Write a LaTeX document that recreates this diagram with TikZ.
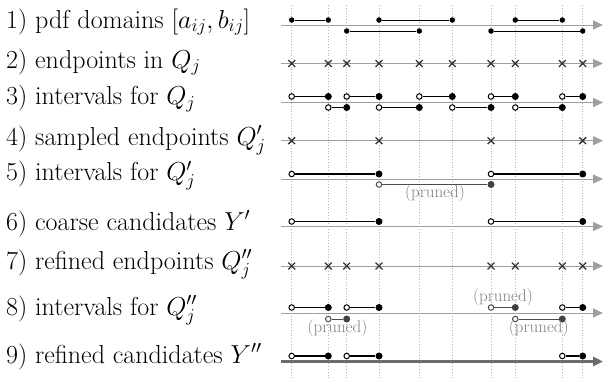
\RequirePackage{fix-cm}
\documentclass[tikz,border=0pt]{standalone}
\usetikzlibrary{arrows.meta,shapes.misc}
\newcommand\ivl[7]{%
  \node[#5] (#1-a) at (#2,#4) {};
  \node[#6] (#1-b) at (#3,#4) {};
  \draw[#7] (#1-a) -- (#1-b);}
\def\xa{291.7}\def\xb{328.3}\def\xc{346.7}\def\xd{379}\def\xe{419.3}
\def\xf{452.3}\def\xg{491}\def\xh{515.3}\def\xi{562.3}\def\xj{582.7}
\begin{document}
\begin{tikzpicture}[x=1pt,y=-1pt,
  vline/.style={gray!60, line width=0.8pt, dash pattern=on 1pt off 1.8pt},
  axisline/.style={gray!75, line width=1pt, -{Triangle[length=10pt,width=9pt]}},
  axisbold/.style={gray!85!black, line width=2.6pt, -{Triangle[length=10pt,width=9pt]}},
  sdot/.style={circle, fill=black, inner sep=0pt, minimum size=5.5pt},
  bdot/.style={circle, fill=black, inner sep=0pt, minimum size=7pt},
  odot/.style={circle, draw=black, fill=white, line width=1pt, inner sep=0pt, minimum size=5.5pt},
  gbdot/.style={circle, fill=gray!50!black, inner sep=0pt, minimum size=7pt},
  godot/.style={circle, draw=gray!60!black, fill=white, line width=1pt, inner sep=0pt, minimum size=5.5pt},
  xm/.style={cross out, draw=black!80, line width=1.3pt, inner sep=0pt, minimum size=5.5pt},
  thin/.style={black, line width=0.9pt},
  thick/.style={black, line width=1.4pt},
  gthin/.style={gray!60!black, line width=1pt},
  lab/.style={anchor=base west, inner sep=0pt, font=\fontsize{26}{30}\selectfont},
  pr/.style={text=gray, inner sep=0pt, font=\fontsize{17}{19}\selectfont}
]
\useasboundingbox (0,0) rectangle (608,378);
% vertical dotted guides
\foreach \x in {\xa,\xb,\xc,\xd,\xe,\xf,\xg,\xh,\xi,\xj}
  \draw[vline] (\x,5) -- (\x,378);
% labels
\node[lab] (l1) at (6,28) {1) pdf domains $[a_{ij},b_{ij}]$};
\node[lab] (l2) at (6,68) {2) endpoints in $Q_j$};
\node[lab] (l3) at (6,104.5) {3) intervals for $Q_j$};
\node[lab] (l4) at (6,145) {4) sampled endpoints $Q'_j$};
\node[lab] (l5) at (6,180.5) {5) intervals for $Q'_j$};
\node[lab] (l6) at (6,230) {6) coarse candidates $Y'$};
\node[lab] (l7) at (6,269) {7) refined endpoints $Q''_j$};
\node[lab] (l8) at (6,315) {8) intervals for $Q''_j$};
\node[lab] (l9) at (6,363) {9) refined candidates $Y''$};
% axes
\foreach \n/\y in {1/25,2/63.5,3/102.5,4/140.7,5/179,6/226.5,7/266,8/313}{
  \coordinate (a\n s) at (281,\y); \coordinate (a\n e) at (603,\y);
  \draw[axisline] (a\n s) -- (a\n e);}
\coordinate (a9s) at (281,361.5); \coordinate (a9e) at (603,361.5);
\draw[axisbold] (a9s) -- (a9e);
% row 1
\ivl{r1u1}{\xa}{\xb}{20}{sdot}{sdot}{thin}
\ivl{r1u2}{\xd}{\xf}{20}{sdot}{sdot}{thin}
\ivl{r1u3}{\xh}{\xi}{20}{sdot}{sdot}{thin}
\ivl{r1l1}{\xc}{\xe}{31}{sdot}{sdot}{thin}
\ivl{r1l2}{\xg}{\xj}{31}{sdot}{sdot}{thin}
% row 2
\foreach \x [count=\k] in {\xa,\xb,\xc,\xd,\xe,\xf,\xg,\xh,\xi,\xj}
  \node[xm] (r2x\k) at (\x,63.5) {};
% row 3
\ivl{r3u1}{\xa}{\xb}{96.5}{odot}{bdot}{thin}
\ivl{r3u2}{\xc}{\xd}{96.5}{odot}{bdot}{thin}
\ivl{r3u3}{\xe}{\xf}{96.5}{odot}{bdot}{thin}
\ivl{r3u4}{\xg}{\xh}{96.5}{odot}{bdot}{thin}
\ivl{r3u5}{\xi}{\xj}{96.5}{odot}{bdot}{thin}
\ivl{r3l1}{\xb}{\xc}{107.5}{odot}{bdot}{thin}
\ivl{r3l2}{\xd}{\xe}{107.5}{odot}{bdot}{thin}
\ivl{r3l3}{\xf}{\xg}{107.5}{odot}{bdot}{thin}
\ivl{r3l4}{\xh}{\xi}{107.5}{odot}{bdot}{thin}
% row 4
\foreach \x [count=\k] in {\xa,\xd,\xg,\xj}
  \node[xm] (r4x\k) at (\x,140.7) {};
% row 5
\ivl{r5u1}{\xa}{\xd}{174}{odot}{bdot}{thick}
\ivl{r5u2}{\xg}{\xj}{174}{odot}{bdot}{thick}
\ivl{r5l1}{\xd}{\xg}{184.5}{godot}{gbdot}{gthin}
\node[pr] (p5) at (435,193.5) {(pruned)};
% row 6
\ivl{r6u1}{\xa}{\xd}{221.5}{odot}{bdot}{thin}
\ivl{r6u2}{\xg}{\xj}{221.5}{odot}{bdot}{thin}
% row 7
\foreach \x [count=\k] in {\xa,\xb,\xc,\xd,\xg,\xh,\xi,\xj}
  \node[xm] (r7x\k) at (\x,266) {};
% row 8
\ivl{r8u1}{\xa}{\xb}{307.5}{odot}{bdot}{thick}
\ivl{r8u2}{\xc}{\xd}{307.5}{odot}{bdot}{thick}
\ivl{r8u3}{\xg}{\xh}{307.5}{godot}{gbdot}{gthin}
\ivl{r8u4}{\xi}{\xj}{307.5}{odot}{bdot}{thick}
\ivl{r8l1}{\xb}{\xc}{319}{godot}{gbdot}{gthin}
\ivl{r8l2}{\xh}{\xi}{319}{godot}{gbdot}{gthin}
\node[pr] (p8a) at (503,297.5) {(pruned)};
\node[pr] (p8b) at (337.5,328) {(pruned)};
\node[pr] (p8c) at (538.8,328) {(pruned)};
% row 9
\ivl{r9u1}{\xa}{\xb}{356}{odot}{bdot}{thick}
\ivl{r9u2}{\xc}{\xd}{356}{odot}{bdot}{thick}
\ivl{r9u3}{\xi}{\xj}{356}{odot}{bdot}{thick}
\end{tikzpicture}
\end{document}
